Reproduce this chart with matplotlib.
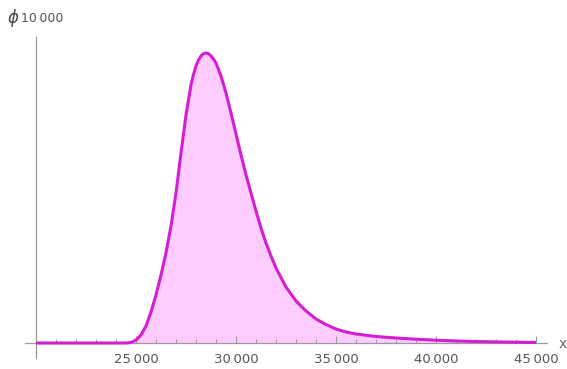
import matplotlib
matplotlib.use("Agg")
import matplotlib.pyplot as plt
from matplotlib.ticker import MultipleLocator, FixedLocator

# Values (phi in arbitrary units, x in units)
x_vals = [20000, 22000, 24000, 24500, 24750, 25000, 25250, 25500, 25750, 26000,
          26250, 26500, 26750, 27000, 27250, 27500, 27750, 27875, 28000, 28125,
          28250, 28375, 28500, 28625, 28750, 28875, 29000, 29250, 29500, 29750,
          30000, 30250, 30500, 30750, 31000, 31250, 31500, 31750, 32000, 32500,
          33000, 33500, 34000, 34500, 35000, 35500, 36000, 37000, 38000, 39000,
          40000, 41000, 42000, 43000, 44000, 45000]
phi_vals = [0, 0, 0, 0, 0.5, 3, 8, 17, 31, 48,
            68, 90, 117, 150, 190, 228, 258, 268.5, 277, 283,
            287, 289.3, 290, 289.3, 287, 284, 280, 267, 250, 230,
            209, 188, 168, 150, 132, 115, 100, 87, 75, 56,
            42, 32, 24, 18.5, 14, 11, 9, 6.5, 5, 3.8,
            2.8, 2, 1.5, 1.1, 0.8, 0.5]
major_ticks = [25000, 30000, 35000, 40000, 45000]
tick_labels = ["25\u2009000", "30\u2009000", "35\u2009000", "40\u2009000", "45\u2009000"]

W, H = 567, 369
fig = plt.figure(figsize=(W / 100, H / 100), dpi=100)
left_px, right_px = 25, 547
bottom_py, top_py = 358, 37
ax = fig.add_axes([left_px / W, (H - bottom_py) / H,
                   (right_px - left_px) / W, (bottom_py - top_py) / H])
ax.set_xlim(19450, 19450 + (right_px - left_px) * 50)
ax.set_ylim(-(bottom_py - 343), 343 - top_py)

line_c = "#D41ED4"
fill_c = "#FFCCFF"
axis_c = "#9a9a9a"
ax.fill_between(x_vals, phi_vals, 0, color=fill_c, lw=0, zorder=1)
ax.plot(x_vals, phi_vals, color=line_c, lw=2.2, zorder=3,
        solid_capstyle="butt", solid_joinstyle="round")

for s in ["top", "right"]:
    ax.spines[s].set_visible(False)
ax.spines["bottom"].set_position(("data", 0))
ax.spines["left"].set_position(("data", 20000))
ax.spines["bottom"].set_color(axis_c)
ax.spines["left"].set_color(axis_c)
ax.spines["bottom"].set_linewidth(0.9)
ax.spines["left"].set_linewidth(0.9)
ax.spines["bottom"].set_zorder(2)

ax.xaxis.set_major_locator(FixedLocator(major_ticks))
ax.set_xticklabels(tick_labels)
ax.xaxis.set_minor_locator(MultipleLocator(1000))
ax.tick_params(axis="x", which="major", direction="in", length=5, width=0.8,
               color=axis_c, labelsize=9.5, labelcolor="#555555", pad=7)
ax.tick_params(axis="x", which="minor", direction="in", length=3, width=0.7, color=axis_c)
ax.set_yticks([])
ax.patch.set_alpha(0)

fig.text(563 / W, 1 - 344 / H, "x", fontsize=10, color="#666666", ha="center", va="center")
fig.text(8 / W, 1 - 18 / H, "\u03d5", fontsize=12, color="#444444", ha="left", va="center",
         style="italic")
fig.text(21 / W, 1 - 18 / H, "10\u2009000", fontsize=9, color="#555555", ha="left", va="center")

fig.savefig("out.png", dpi=100)
